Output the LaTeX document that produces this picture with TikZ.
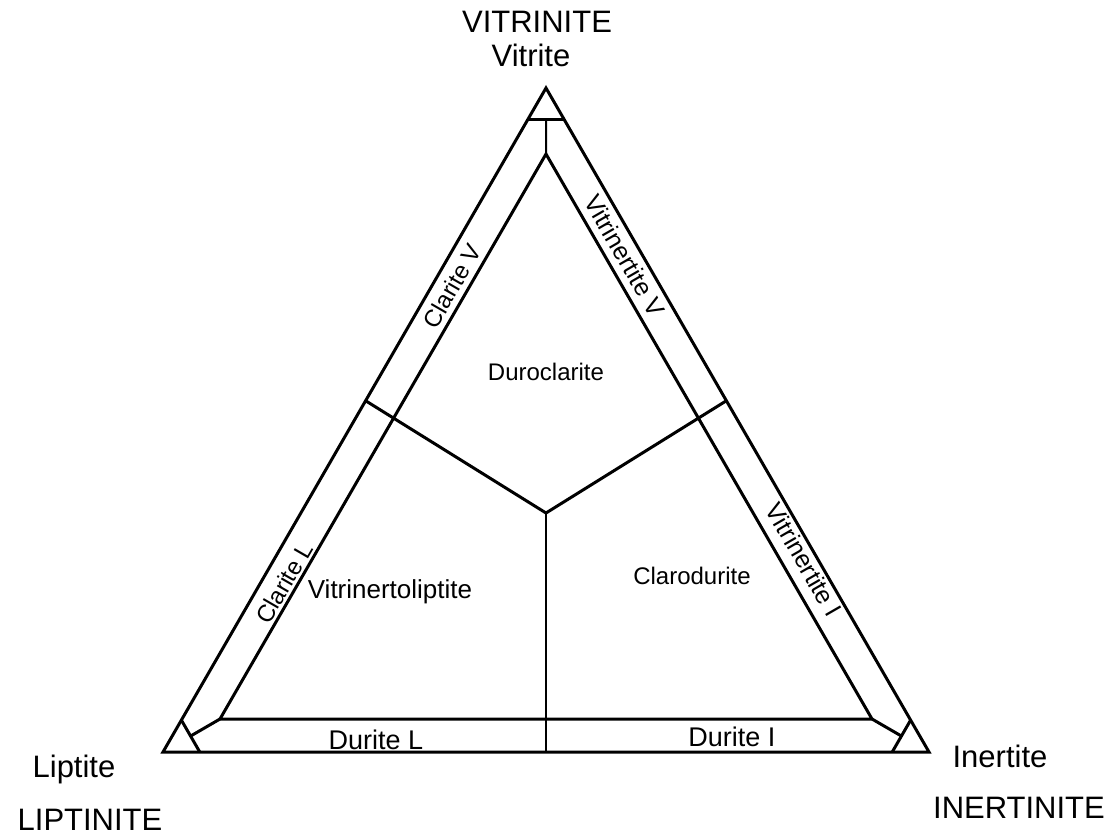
\documentclass[tikz,border=0pt]{standalone}
\usepackage{fontspec}
\setmainfont{Liberation Sans}
\usetikzlibrary{calc}

\begin{document}
\begin{tikzpicture}[
  x=0.5pt,y=-0.5pt,
  edge/.style={line width=1.5pt,line join=miter},
  thinedge/.style={line width=1pt},
  corner/.style={font=\fontsize{15.5}{18}\selectfont,anchor=base,inner sep=0pt},
  field/.style={font=\fontsize{12}{14}\selectfont,inner sep=0pt},
  bandtext/.style={font=\fontsize{12}{14}\selectfont,inner sep=0pt}
]
\useasboundingbox (0,0) rectangle (1120,840);
\coordinate (VT) at (546,88);
\coordinate (LT) at (163,752);
\coordinate (IT) at (929,752);
\coordinate (vt) at (546,154);
\coordinate (lt) at (220,719);
\coordinate (it) at (872,719);
\coordinate (J) at (546,513);
\draw[edge] (VT) -- (LT) -- (IT) -- cycle;
\draw[edge] (vt) -- (lt) -- (it) -- cycle;
\draw[edge] ($(VT)!0.048!(LT)$) coordinate (v1) -- ($(VT)!0.048!(IT)$) coordinate (v2);
\draw[edge] ($(LT)!0.048!(VT)$) coordinate (l1) -- ($(LT)!0.048!(IT)$) coordinate (l2);
\draw[edge] ($(IT)!0.048!(VT)$) coordinate (i1) -- ($(IT)!0.048!(LT)$) coordinate (i2);
\draw[thinedge] ($(v1)!0.5!(v2)$) -- (vt);
\draw[edge] ($(l1)!0.5!(l2)$) -- (lt);
\draw[edge] ($(i1)!0.5!(i2)$) -- (it);
\draw[edge] ($(LT)!0.529!(VT)$) coordinate (cl) -- (J) -- ($(IT)!0.529!(VT)$) coordinate (ci);
\draw[thinedge] (J) -- ($(LT)!0.5!(IT)$) coordinate (dm);
\node[corner] (vitrinite) at (537,33) {VITRINITE};
\node[corner] (vitrite) at (531,67) {Vitrite};
\node[corner] (liptite) at (74,777) {Liptite};
\node[corner] (liptinite) at (90,830) {LIPTINITE};
\node[corner] (inertite) at (1000,767) {Inertite};
\node[corner] (inertinite) at (1019,818) {INERTINITE};
\node[field] (duro) at (546,372) {Duroclarite};
\node[field,font=\fontsize{13}{15}\selectfont] (vtl) at (390,592) {Vitrinertoliptite};
\node[field] (claro) at (692,576) {Clarodurite};
\node[field,font=\fontsize{13.5}{15}\selectfont] (duritel) at (376,740) {Durite L};
\node[field,font=\fontsize{13.5}{15}\selectfont] (duritei) at (732,737) {Durite I};
\node[bandtext,rotate=60] (clav) at (452,286) {Clarite V};
\node[bandtext,rotate=60] (clal) at (284,583) {Clarite L};
\node[bandtext,font=\fontsize{12.5}{14}\selectfont,rotate=-60] (vitv) at (625,256) {Vitrinertite V};
\node[bandtext,font=\fontsize{12.5}{14}\selectfont,rotate=-60] (viti) at (804,560) {Vitrinertite I};
\end{tikzpicture}
\end{document}
